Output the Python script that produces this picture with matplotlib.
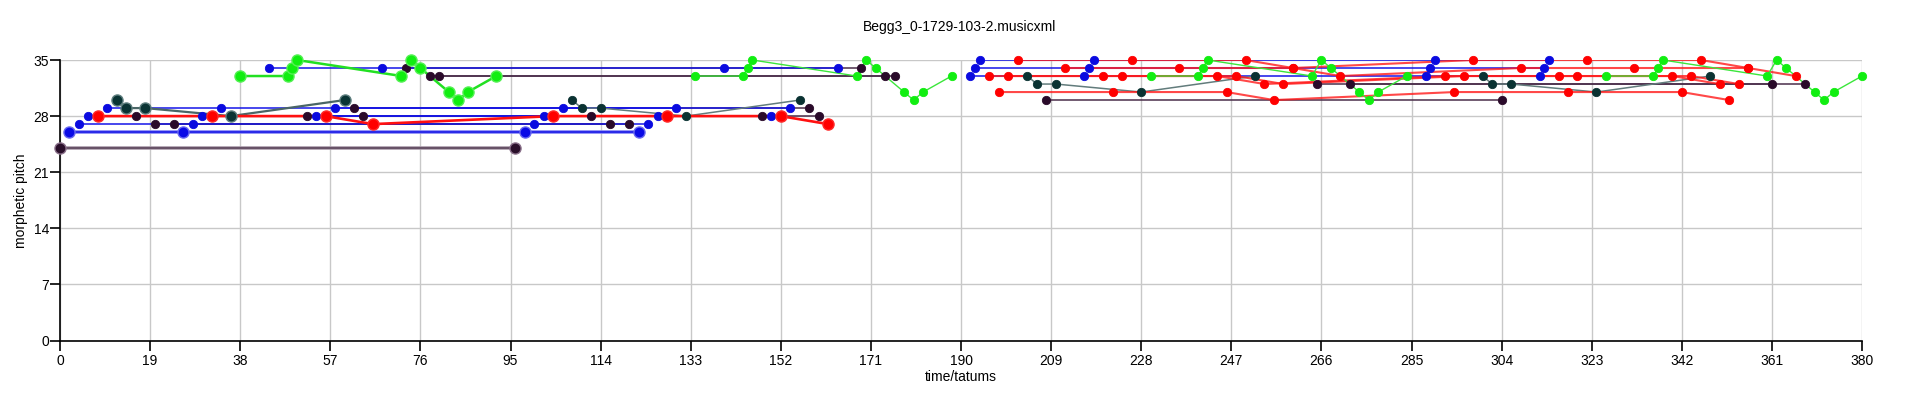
import matplotlib
matplotlib.use("Agg")
import matplotlib.pyplot as plt

plt.rcParams['font.family'] = ['Liberation Sans', 'DejaVu Sans']

# ---- data: time (tatums) and morphetic pitch ----

# large markers
purple_big_t = [0, 96]
purple_big_p = [24, 24]

blue_big_t = [2, 26, 98, 122]
blue_big_p = [26, 26, 26, 26]

red_big_t = [8, 32, 56, 66, 104, 128, 152, 162]
red_big_p = [28, 28, 28, 27, 28, 28, 28, 27]

teal_big_t = [12, 14, 18, 36, 60]
teal_big_p = [30, 29, 29, 28, 30]

green_big_t = [38, 48, 49, 50, 72, 74, 76, 82, 84, 86, 92]
green_big_p = [33, 33, 34, 35, 33, 35, 34, 31, 30, 31, 33]

# small markers, one polyline per entry
teal_t = [[108, 110, 114, 132, 156],
          [204, 206, 210, 228, 252],
          [300, 302, 306, 324, 348]]
teal_p = [[30, 29, 29, 28, 30],
          [33, 32, 32, 31, 33],
          [33, 32, 32, 31, 33]]

green_t = [[134, 144, 145, 146, 168, 170, 172, 178, 180, 182, 188],
           [230, 240, 241, 242, 264, 266, 268, 274, 276, 278, 284],
           [326, 336, 337, 338, 360, 362, 364, 370, 372, 374, 380]]
green_p = [[33, 33, 34, 35, 33, 35, 34, 31, 30, 31, 33],
           [33, 33, 34, 35, 33, 35, 34, 31, 30, 31, 33],
           [33, 33, 34, 35, 33, 35, 34, 31, 30, 31, 33]]

blue_t = [[4, 28, 100, 124], [6, 30, 102, 126], [10, 34, 106, 130],
          [54, 150], [58, 154], [44, 68, 140, 164],
          [192, 216, 288, 312], [193, 217, 289, 313], [194, 218, 290, 314]]
blue_p = [[27, 27, 27, 27], [28, 28, 28, 28], [29, 29, 29, 29],
          [28, 28], [29, 29], [34, 34, 34, 34],
          [33, 33, 33, 33], [34, 34, 34, 34], [35, 35, 35, 35]]

black_t = [[16, 112], [20, 116], [24, 120], [52, 148], [62, 158], [64, 160],
           [73, 169], [78, 174], [80, 176], [208, 304], [265, 361], [272, 368]]
black_p = [[28, 28], [27, 27], [27, 27], [28, 28], [29, 29], [28, 28],
           [34, 34], [33, 33], [33, 33], [30, 30], [32, 32], [32, 32]]

red_t = [[196, 220, 244, 254, 292, 316, 340, 350],
         [198, 222, 246, 256, 294, 318, 342, 352],
         [200, 224, 248, 258, 296, 320, 344, 354],
         [202, 226, 250, 260, 298, 322, 346, 356],
         [212, 236, 260, 270, 308, 332, 356, 366]]
red_p = [[33, 33, 33, 32, 33, 33, 33, 32],
         [31, 31, 31, 30, 31, 31, 31, 30],
         [33, 33, 33, 32, 33, 33, 33, 32],
         [35, 35, 35, 34, 35, 35, 35, 34],
         [34, 34, 34, 33, 34, 34, 34, 33]]

xticks = list(range(0, 381, 19))
yticks = [0, 7, 14, 21, 28, 35]

# ---- plot ----
fig = plt.figure(figsize=(19.2, 4.01), dpi=100)
ax = fig.add_axes([60 / 1920, 60.5 / 401, 1802 / 1920, 280.5 / 401])

# lines first
ax.plot(purple_big_t, purple_big_p, color='#a898a8', lw=2.6, zorder=2)
ax.plot(purple_big_t, purple_big_p, color='#5a445a', lw=1.2, zorder=2)
ax.plot(blue_big_t, blue_big_p, color='#8080f4', lw=2.6, zorder=2)
ax.plot(blue_big_t, blue_big_p, color='#1a1ae6', lw=1.2, zorder=2)
for t, p in zip(black_t, black_p):
    ax.plot(t, p, color='#4a2d4a', lw=1.1, zorder=2)
for t, p in zip(blue_t, blue_p):
    ax.plot(t, p, color='#1515e8', lw=1.1, zorder=2)
ax.plot(teal_big_t, teal_big_p, color='#4a6666', lw=1.6, zorder=2)
for t, p in zip(teal_t, teal_p):
    ax.plot(t, p, color='#627c7c', lw=1.1, zorder=2)
for t, p in zip(red_t, red_p):
    ax.plot(t, p, color='#ff1a1a', lw=1.5, alpha=0.8, zorder=2)
ax.plot(red_big_t, red_big_p, color='#ff1010', lw=1.9, zorder=2)
for t, p in zip(green_t, green_p):
    ax.plot(t, p, color='#3be63b', lw=1.0, zorder=2)
ax.plot(green_big_t, green_big_p, color='#22e022', lw=1.8, zorder=2)

# markers on top
big = dict(marker='o', ls='none', ms=8, mew=1, clip_on=False, zorder=4)
small = dict(marker='o', ls='none', ms=6.0, mew=0.6, clip_on=False, zorder=3)

ax.plot(purple_big_t, purple_big_p, mfc='#2a0f2a', mec='#8a708a', **big)
for t, p in zip(green_t, green_p):
    ax.plot(t, p, mfc='#11ee11', mec='#11ee11', **small)
for t, p in zip(black_t, black_p):
    ax.plot(t, p, mfc='#2a0a2a', mec='#2a0a2a', **small)
for t, p in zip(blue_t, blue_p):
    ax.plot(t, p, mfc='#0a0ae0', mec='#0a0ae0', **small)
for t, p in zip(teal_t, teal_p):
    ax.plot(t, p, mfc='#0a3232', mec='#0a3232', **small)
for t, p in zip(red_t, red_p):
    ax.plot(t, p, mfc='#ff0000', mec='#ff0000', **small)
ax.plot(blue_big_t, blue_big_p, mfc='#0a0ae6', mec='#6a6af0', **big)
ax.plot(teal_big_t, teal_big_p, mfc='#0a3434', mec='#5f7f7f', **big)
ax.plot(green_big_t, green_big_p, mfc='#11ee11', mec='#55f055', **big)
ax.plot(red_big_t, red_big_p, mfc='#ff0000', mec='#ff2a2a', **big)

ax.set_xlim(0, 380)
ax.set_ylim(0, 35)
ax.set_xticks(xticks)
ax.set_yticks(yticks)
ax.grid(True, color='#c8c8c8', lw=1.0, zorder=0)
ax.set_axisbelow(True)
for s in ['top', 'right']:
    ax.spines[s].set_visible(False)
for s in ['left', 'bottom']:
    ax.spines[s].set_linewidth(1.2)
ax.tick_params(axis='both', length=7, width=1.2, labelsize=10)
ax.tick_params(axis='x', pad=2.5)
ax.tick_params(axis='y', pad=1)

ax.set_xlabel('time/tatums', fontsize=10, labelpad=2)
ax.set_ylabel('morphetic pitch', fontsize=10, labelpad=4)
fig.text(0.5, 1 - 27 / 401, 'Begg3_0-1729-103-2.musicxml', ha='center', va='center', fontsize=10)

fig.savefig('out.png', dpi=100)
